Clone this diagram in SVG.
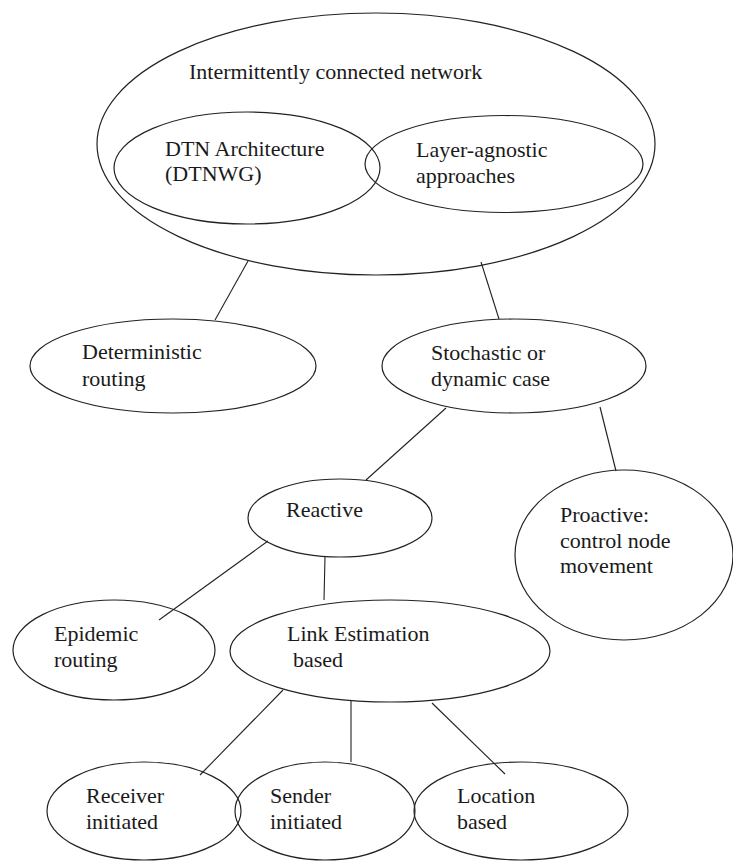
<svg xmlns="http://www.w3.org/2000/svg" width="733" height="861" viewBox="0 0 733 861">
<style>
.n{fill:none;stroke:#222;stroke-width:1.2}
.c{stroke:#222;stroke-width:1.1;fill:none}
</style>
<rect width="733" height="861" fill="#fff"/>
<g id="connectors">
<line class="c" x1="248" y1="261" x2="215" y2="320"/>
<line class="c" x1="481" y1="262" x2="499" y2="319"/>
<line class="c" x1="446" y1="408" x2="366" y2="480"/>
<line class="c" x1="600" y1="407" x2="616" y2="471"/>
<line class="c" x1="268" y1="541" x2="159" y2="620"/>
<line class="c" x1="325" y1="557" x2="324" y2="600"/>
<line class="c" x1="283" y1="690" x2="200" y2="775"/>
<line class="c" x1="351" y1="701" x2="351" y2="762"/>
<line class="c" x1="432" y1="703" x2="505" y2="774"/>
</g>
<g id="icn">
<ellipse class="n" cx="376" cy="144" rx="279" ry="131"/>
<text x="189" y="79" font-family="Liberation Serif" font-size="22" fill="#1a1a1a" style="font-family:'Liberation Serif',serif;font-size:22px">Intermittently connected network</text>
</g>
<g id="dtn">
<ellipse class="n" cx="247" cy="168" rx="133" ry="56"/>
<text x="165" y="156" font-family="Liberation Serif" font-size="22" fill="#1a1a1a" style="font-family:'Liberation Serif',serif;font-size:22px">DTN Architecture</text>
<text x="165" y="181" font-family="Liberation Serif" font-size="22" fill="#1a1a1a" style="font-family:'Liberation Serif',serif;font-size:22px">(DTNWG)</text>
</g>
<g id="layer">
<ellipse class="n" cx="504" cy="164" rx="139" ry="48.5"/>
<text x="416" y="157" font-family="Liberation Serif" font-size="22" fill="#1a1a1a" style="font-family:'Liberation Serif',serif;font-size:22px">Layer-agnostic</text>
<text x="416" y="183" font-family="Liberation Serif" font-size="22" fill="#1a1a1a" style="font-family:'Liberation Serif',serif;font-size:22px">approaches</text>
</g>
<g id="deterministic">
<ellipse class="n" cx="173" cy="366" rx="143" ry="47"/>
<text x="82" y="359" font-family="Liberation Serif" font-size="22" fill="#1a1a1a" style="font-family:'Liberation Serif',serif;font-size:22px">Deterministic</text>
<text x="82" y="386" font-family="Liberation Serif" font-size="22" fill="#1a1a1a" style="font-family:'Liberation Serif',serif;font-size:22px">routing</text>
</g>
<g id="stochastic">
<ellipse class="n" cx="514" cy="366" rx="132" ry="47"/>
<text x="431" y="360" font-family="Liberation Serif" font-size="22" fill="#1a1a1a" style="font-family:'Liberation Serif',serif;font-size:22px">Stochastic or</text>
<text x="431" y="386" font-family="Liberation Serif" font-size="22" fill="#1a1a1a" style="font-family:'Liberation Serif',serif;font-size:22px">dynamic case</text>
</g>
<g id="reactive">
<ellipse class="n" cx="340" cy="518" rx="92" ry="39"/>
<text x="286" y="517" font-family="Liberation Serif" font-size="22" fill="#1a1a1a" style="font-family:'Liberation Serif',serif;font-size:22px">Reactive</text>
</g>
<g id="proactive">
<ellipse class="n" cx="624" cy="555" rx="109" ry="85"/>
<text x="560" y="522" font-family="Liberation Serif" font-size="22" fill="#1a1a1a" style="font-family:'Liberation Serif',serif;font-size:22px">Proactive:</text>
<text x="560" y="548" font-family="Liberation Serif" font-size="22" fill="#1a1a1a" style="font-family:'Liberation Serif',serif;font-size:22px">control node</text>
<text x="560" y="573" font-family="Liberation Serif" font-size="22" fill="#1a1a1a" style="font-family:'Liberation Serif',serif;font-size:22px">movement</text>
</g>
<g id="epidemic">
<ellipse class="n" cx="114" cy="650" rx="101" ry="50"/>
<text x="54" y="641" font-family="Liberation Serif" font-size="22" fill="#1a1a1a" style="font-family:'Liberation Serif',serif;font-size:22px">Epidemic</text>
<text x="54" y="667" font-family="Liberation Serif" font-size="22" fill="#1a1a1a" style="font-family:'Liberation Serif',serif;font-size:22px">routing</text>
</g>
<g id="link">
<ellipse class="n" cx="390" cy="651" rx="160" ry="51"/>
<text x="287" y="641" font-family="Liberation Serif" font-size="22" fill="#1a1a1a" style="font-family:'Liberation Serif',serif;font-size:22px">Link Estimation</text>
<text x="293" y="667" font-family="Liberation Serif" font-size="22" fill="#1a1a1a" style="font-family:'Liberation Serif',serif;font-size:22px">based</text>
</g>
<g id="receiver">
<ellipse class="n" cx="144" cy="811" rx="97" ry="49"/>
<text x="86" y="803" font-family="Liberation Serif" font-size="22" fill="#1a1a1a" style="font-family:'Liberation Serif',serif;font-size:22px">Receiver</text>
<text x="86" y="829" font-family="Liberation Serif" font-size="22" fill="#1a1a1a" style="font-family:'Liberation Serif',serif;font-size:22px">initiated</text>
</g>
<g id="sender">
<ellipse class="n" cx="325" cy="811" rx="90" ry="49"/>
<text x="270" y="803" font-family="Liberation Serif" font-size="22" fill="#1a1a1a" style="font-family:'Liberation Serif',serif;font-size:22px">Sender</text>
<text x="270" y="829" font-family="Liberation Serif" font-size="22" fill="#1a1a1a" style="font-family:'Liberation Serif',serif;font-size:22px">initiated</text>
</g>
<g id="location">
<ellipse class="n" cx="521" cy="811" rx="107" ry="49"/>
<text x="457" y="803" font-family="Liberation Serif" font-size="22" fill="#1a1a1a" style="font-family:'Liberation Serif',serif;font-size:22px">Location</text>
<text x="457" y="829" font-family="Liberation Serif" font-size="22" fill="#1a1a1a" style="font-family:'Liberation Serif',serif;font-size:22px">based</text>
</g>
</svg>
